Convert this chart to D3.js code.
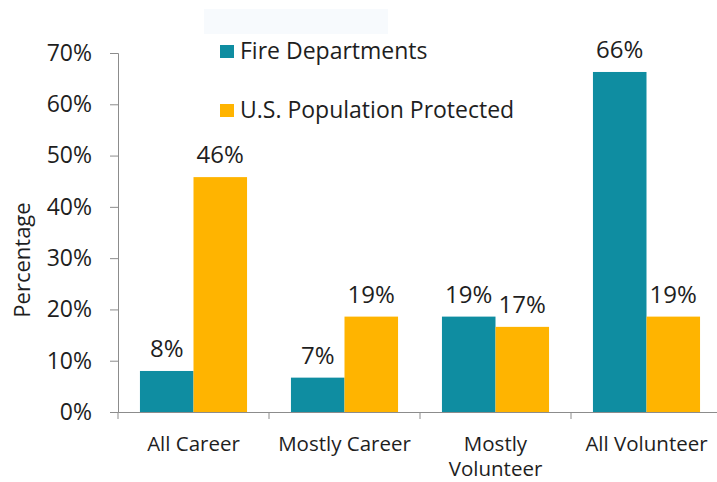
<!DOCTYPE html>
<html lang="en">
<head>
    <meta charset="UTF-8">
    <title>Fire Departments</title>
    <script src="https://cdn.jsdelivr.net/npm/d3@7"></script>
    <style>
        body { margin: 0; background: #fff; }
        text { font-family: "Open Sans", "DejaVu Sans", sans-serif; fill: #1e1e1e; }
    </style>
</head>
<body>
    <div id="chart"></div>
    <script>
        // data
        var categories = [["All Career"], ["Mostly Career"], ["Mostly", "Volunteer"], ["All Volunteer"]];
        var seriesNames = ["Fire Departments", "U.S. Population Protected"];
        var fireDepts = [8.0, 6.7, 18.6, 66.3];
        var popProtected = [45.8, 18.6, 16.6, 18.6];
        var yTicks = [0, 10, 20, 30, 40, 50, 60, 70];
        var colors = ["#0f8da1", "#ffb400"];

        var width = 717, height = 482;
        var svg = d3.select('#chart').append('svg').attr('width', width).attr('height', height);

        // faint leftover box at the top
        svg.append('rect').attr('x', 204).attr('y', 9).attr('width', 184).attr('height', 25).attr('fill', '#f7fafd');

        var keys = categories.map(function(c){ return c.join(' '); });
        var x0 = d3.scaleBand().domain(keys).range([118, 722]).padding(0);
        var x1 = d3.scaleBand().domain(seriesNames).range([0, x0.bandwidth()]).paddingInner(0).paddingOuter(0.41);
        var y = d3.scaleLinear().domain([0, 70]).range([412, 53]);

        // y axis
        var yAxis = svg.append('g').attr('transform', 'translate(118,0)')
            .call(d3.axisLeft(y).tickValues(yTicks).tickSize(8).tickPadding(18).tickFormat(function(d){ return d + '%'; }));
        yAxis.selectAll('path, line').attr('stroke', '#8c8c8c');
        yAxis.selectAll('text').attr('font-size', 23).attr('font-family', null).style('fill', '#1e1e1e');

        svg.append('text').attr('transform', 'translate(30,260) rotate(-90)')
            .attr('text-anchor', 'middle').attr('font-size', 22).text('Percentage');

        // bars
        var rows = keys.map(function(k, i){ return {key: k, values: [fireDepts[i], popProtected[i]]}; });
        var groups = svg.selectAll('.grp').data(rows).enter().append('g')
            .attr('transform', function(d){ return 'translate(' + x0(d.key) + ',0)'; });

        groups.selectAll('rect').data(function(d){ return d.values; }).enter().append('rect')
            .attr('x', function(d, i){ return x1(seriesNames[i]); })
            .attr('y', function(d){ return y(d); })
            .attr('width', x1.bandwidth())
            .attr('height', function(d){ return y(0) - y(d); })
            .attr('fill', function(d, i){ return colors[i]; });

        groups.selectAll('.lbl').data(function(d){ return d.values; }).enter().append('text')
            .attr('x', function(d, i){ return x1(seriesNames[i]) + x1.bandwidth() / 2; })
            .attr('y', function(d){ return y(d) - 14; })
            .attr('text-anchor', 'middle').attr('font-size', 24)
            .text(function(d){ return Math.round(d) + '%'; });

        // x axis
        var xAxis = svg.append('g').attr('transform', 'translate(0,412)')
            .call(d3.axisBottom(x0).tickSize(0).tickFormat(''));
        xAxis.select('path').attr('stroke', '#8c8c8c');
        xAxis.selectAll('.tick').remove();
        svg.selectAll('.xtick').data(keys).enter().append('line')
            .attr('x1', function(d){ return x0(d); }).attr('x2', function(d){ return x0(d); })
            .attr('y1', 412).attr('y2', 419).attr('stroke', '#8c8c8c');

        var catLabels = svg.selectAll('.cat').data(categories).enter().append('text')
            .attr('text-anchor', 'middle').attr('font-size', 20.5)
            .attr('x', function(d){ return x0(d.join(' ')) + x0.bandwidth() / 2; })
            .attr('y', 451);
        catLabels.selectAll('tspan').data(function(d){ return d; }).enter().append('tspan')
            .attr('x', function(){ return d3.select(this.parentNode).attr('x'); })
            .attr('dy', function(d, i){ return i ? 25 : 0; })
            .text(function(d){ return d; });

        // legend
        var legend = svg.selectAll('.leg').data(seriesNames).enter().append('g')
            .attr('transform', function(d, i){ return 'translate(220,' + (45 + i * 59) + ')'; });
        legend.append('rect').attr('width', 14).attr('height', 13).attr('fill', function(d, i){ return colors[i]; });
        legend.append('text').attr('x', 20).attr('y', 13.5).attr('font-size', 23).text(function(d){ return d; });
    </script>
</body>
</html>
